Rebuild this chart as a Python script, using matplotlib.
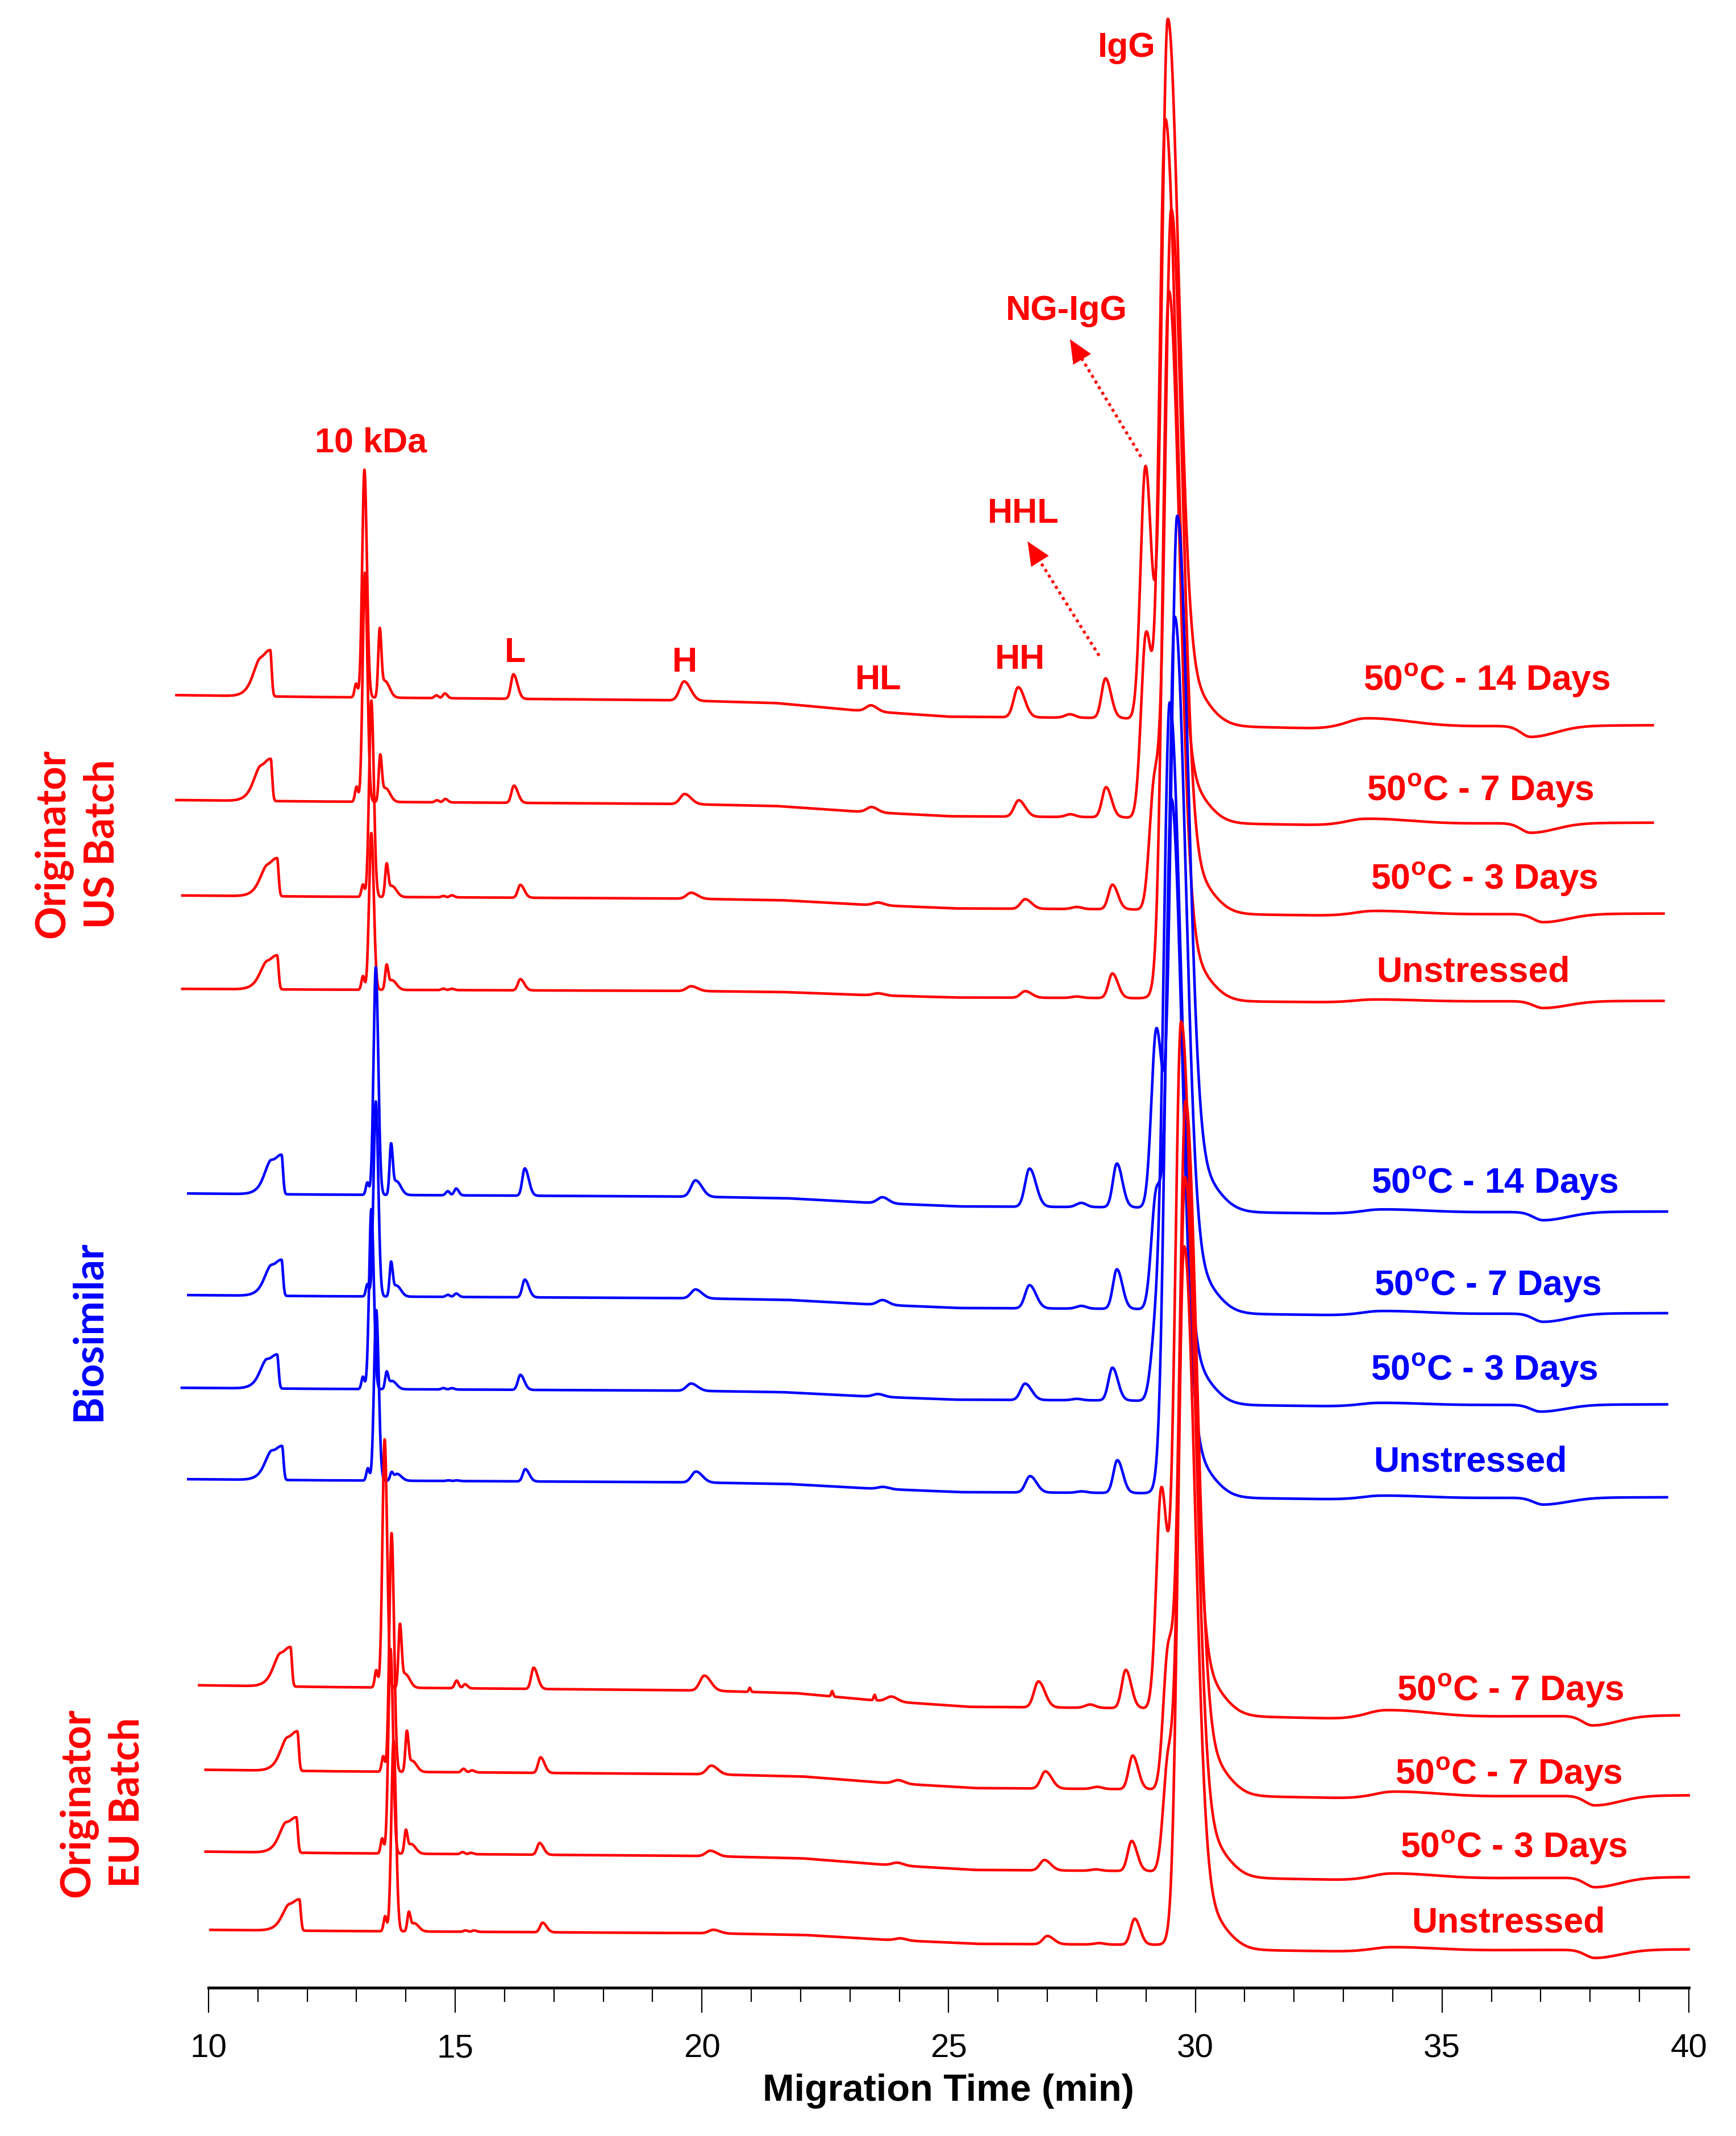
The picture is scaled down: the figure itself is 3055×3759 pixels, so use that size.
import numpy as np
import matplotlib
matplotlib.use('Agg')
import matplotlib.pyplot as plt

plt.rcParams['font.family'] = ['Liberation Sans', 'DejaVu Sans']
plt.rcParams['mathtext.fontset'] = 'custom'
plt.rcParams['mathtext.rm'] = 'Liberation Sans:bold'
plt.rcParams['mathtext.it'] = 'Liberation Sans:bold'
plt.rcParams['mathtext.bf'] = 'Liberation Sans:bold'

RED = '#ff0000'
BLUE = '#0000ff'

# ---- peak table (positions in min for the top US trace) ----
peak_names = ['pre', 'saw', '10kDa_sh', '10kDa', '10kDa_2', '10kDa_tail', 'm1', 'm2',
              'L', 'H', 'HL', 'sp1', 'sp2', 'sp3', 'HH', 'm3', 'HHL']
peak_ref = [11.00, 11.25, 12.99, 13.16, 13.47, 13.58, 14.62, 14.79,
            16.18, 19.64, 23.43, 20.56, 22.23, 23.09, 26.41, 27.46, 28.18]
peak_wl = [0.10, 0.25, 0.03, 0.045, 0.03, 0.05, 0.04, 0.04,
           0.05, 0.09, 0.10, 0.02, 0.02, 0.02, 0.09, 0.10, 0.08]
peak_wr = [0.06, 0.03, 0.03, 0.05, 0.035, 0.09, 0.04, 0.05,
           0.08, 0.13, 0.12, 0.02, 0.02, 0.02, 0.13, 0.10, 0.11]

# peak heights per trace (same order as peak_names)
h_us_14d = [5, 34, 10, 167, 50, 12, 2, 3.5, 18, 14, 4.4, 0, 0, 0, 22, 2.5, 29]
h_us_7d = [5, 31, 11, 168, 34, 10, 1.5, 2.5, 12.6, 7.4, 3.8, 0, 0, 0, 12, 2, 22]
h_us_3d = [4, 28, 9, 144, 24, 8, 1, 1.5, 9.4, 4.4, 2, 0, 0, 0, 7, 1.5, 18]
h_us_0 = [4, 25, 10, 115, 18, 7, 1, 1, 8.2, 3.5, 1.5, 0, 0, 0, 4.8, 1, 18]
h_bs_14d = [6, 29, 9, 167, 37, 10, 3, 5, 20, 12, 4.4, 0, 0, 0, 28, 3, 32]
h_bs_7d = [5, 26.5, 9, 143, 25, 8, 1.5, 2.5, 13, 6.5, 3.5, 0, 0, 0, 17, 2, 29]
h_bs_3d = [5, 25, 9, 132, 12.5, 6, 1, 1, 11, 5.3, 2, 0, 0, 0, 12, 1, 24]
h_bs_0 = [5, 25, 9, 125, 6, 5, 0.5, 0.5, 9, 8, 1.5, 0, 0, 0, 12, 1, 24]
h_eu_7a = [5, 29, 12.6, 182, 46, 10, 5.6, 3, 15.6, 11, 3.6, 3, 4, 4, 19, 2.4, 28]
h_eu_7b = [5, 29, 11.2, 175, 29.5, 8, 2.6, 1.5, 11.4, 6.4, 2.5, 0, 0, 0, 12.6, 1.5, 24.6]
h_eu_3d = [5, 26, 11, 150, 17, 7, 1.5, 1, 8.6, 4, 2, 0, 0, 0, 7.6, 1, 22]
h_eu_0 = [4, 23, 11, 140, 14, 6, 1, 1, 7, 2.6, 1.5, 0, 0, 0, 6, 1, 19]
heights = [h_us_14d, h_us_7d, h_us_3d, h_us_0, h_bs_14d, h_bs_7d, h_bs_3d, h_bs_0,
           h_eu_7a, h_eu_7b, h_eu_3d, h_eu_0]

# ---- per trace values ----
trace_labels = ['50$^{\\mathrm{o}}$C - 14 Days', '50$^{\\mathrm{o}}$C - 7 Days',
                '50$^{\\mathrm{o}}$C - 3 Days', 'Unstressed',
                '50$^{\\mathrm{o}}$C - 14 Days', '50$^{\\mathrm{o}}$C - 7 Days',
                '50$^{\\mathrm{o}}$C - 3 Days', 'Unstressed',
                '50$^{\\mathrm{o}}$C - 7 Days', '50$^{\\mathrm{o}}$C - 7 Days',
                '50$^{\\mathrm{o}}$C - 3 Days', 'Unstressed']
trace_group = ['us'] * 4 + ['bs'] * 4 + ['eu'] * 4
trace_offset = [948, 871, 801, 732.5, 582.5, 508, 440, 373, 222, 160, 100, 42.6]
trace_shift = [0.0, 0.01, 0.14, 0.14, 0.23, 0.23, 0.14, 0.24, 0.41, 0.55, 0.53, 0.59]
trace_start = [9.35, 9.35, 9.47, 9.47, 9.59, 9.59, 9.46, 9.59, 9.81, 9.94, 9.94, 10.04]
trace_end = [39.27, 39.27, 39.49, 39.49, 39.56, 39.56, 39.56, 39.56, 39.8, 40.0, 40.0, 40.0]
drift_scale = [1.0, 0.75, 0.6, 0.4, 0.6, 0.6, 0.55, 0.6, 1.0, 0.85, 0.85, 0.65]

ng_pos = [28.99, 29.0, 29.17, 29.2, 29.21, 29.21, 29.2, 29.3, 29.31, 29.45, 29.45, 29.5]
ng_h = [185, 133, 90, 0, 130, 84, 45, 0, 160, 100, 80, 0]
igg_pos = [29.44, 29.39, 29.51, 29.46, 29.63, 29.58, 29.48, 29.51, 29.71, 29.80, 29.79, 29.77]
igg_h = [500, 498, 498, 504, 493, 493, 495, 495, 490, 490, 494, 498]
tail_h = [30] * 12
bump_pos = [33.45, 33.45, 33.6, 33.6, 33.75, 33.75, 33.7, 33.75, 33.85, 34.0, 33.95, 33.95]
bump_h = [6, 5, 4.5, 4, 4, 4, 3.5, 3.5, 5, 4.5, 4.5, 4]
dip_pos = [36.8, 36.8, 37.05, 37.05, 37.05, 37.05, 37.0, 37.05, 38.05, 38.1, 38.1, 38.1]
dip_h = [-8, -7, -6, -5, -6, -6, -5, -5, -7, -7, -7, -6]

# slow baseline drift of the top trace (min, signal)
drift_x = [9.0, 12.0, 19.5, 21.5, 23.0, 25.0, 28.5, 30.5, 33.0, 36.0, 40.5]
drift_y = [0, -1.5, -4, -6, -11, -16, -17, -23, -25, -23, -22]

group_text = {'us': 'Originator\nUS Batch', 'bs': 'Biosimilar', 'eu': 'Originator\nEU Batch'}
group_color = {'us': RED, 'bs': BLUE, 'eu': RED}

peak_labels = ['10 kDa', 'L', 'H', 'HL', 'HH', 'HHL', 'NG-IgG', 'IgG']


def apeak(x, c, h, wl, wr):
    w = np.where(x < c, wl, wr)
    return h * np.exp(-0.5 * ((x - c) / w) ** 2)


fig = plt.figure(figsize=(30.55, 37.59), dpi=100)
ax = fig.add_axes([0.1201, 0.0694, 0.8527, 0.9306])

for i in range(12):
    x = np.arange(trace_start[i], trace_end[i], 0.003)
    y = trace_offset[i] + drift_scale[i] * np.interp(x - trace_shift[i], drift_x, drift_y)
    for k in range(len(peak_names)):
        y += apeak(x, peak_ref[k] + trace_shift[i], heights[i][k], peak_wl[k], peak_wr[k])
    y += apeak(x, ng_pos[i], ng_h[i], 0.10, 0.12)
    y += apeak(x, igg_pos[i], igg_h[i], 0.12, 0.22)
    y += apeak(x, igg_pos[i] + 0.35, tail_h[i], 0.30, 0.42)
    y += apeak(x, bump_pos[i], bump_h[i] * drift_scale[i] / 0.8, 0.4, 0.9)
    y += apeak(x, dip_pos[i], dip_h[i], 0.2, 0.5)
    col = group_color[trace_group[i]]
    ax.plot(x, y, color=col, lw=3.3, clip_on=False, solid_joinstyle='round')

# trace labels on the right
label_xy = [(35.91, 958.5), (35.77, 877.5), (35.85, 812.5), (35.63, 744.5),
            (36.07, 589.5), (35.93, 514.5), (35.85, 452.5), (35.57, 385.5),
            (36.38, 217.5), (36.35, 156.5), (36.46, 102.5), (36.35, 47.5)]
for i in range(12):
    ax.text(label_xy[i][0], label_xy[i][1], trace_labels[i], color=group_color[trace_group[i]],
            fontsize=45, fontweight='bold', ha='center', va='center')

# peak names
peak_label_xy = [(13.29, 1132.5), (16.22, 978.5), (19.65, 971.5), (23.57, 958.5),
                 (26.45, 973.5), (26.51, 1080.5), (27.39, 1229.5), (28.61, 1422.5)]
for t, (px, py) in zip(peak_labels, peak_label_xy):
    ax.text(px, py, t, color=RED, fontsize=44, fontweight='bold', ha='center', va='center')

# dotted arrows to NG-IgG and HHL
for tail, head in [((28.9, 1122.6), (27.46, 1208.75)), ((28.05, 976.7), (26.6, 1060.5))]:
    dx, dy = head[0] - tail[0], head[1] - tail[1]
    mid = (tail[0] + 0.85 * dx, tail[1] + 0.85 * dy)
    ax.plot([tail[0], mid[0]], [tail[1], mid[1]], color=RED, lw=3.8, ls=(0, (1, 1.2)))
    ax.annotate('', xy=head, xytext=mid,
                arrowprops=dict(arrowstyle='-|>,head_length=0.9,head_width=0.4',
                                color=RED, lw=0.5, mutation_scale=32,
                                shrinkA=0, shrinkB=0))

# group labels
fig.text(0.0445, 0.605, group_text['us'], color=RED, rotation=90, fontsize=52,
         fontweight='bold', family='Lato', ha='center', va='center',
         multialignment='center', linespacing=1.35)
fig.text(0.051, 0.377, group_text['bs'], color=BLUE, rotation=90, fontsize=52,
         fontweight='bold', family='Lato', ha='center', va='center')
fig.text(0.059, 0.156, group_text['eu'], color=RED, rotation=90, fontsize=52,
         fontweight='bold', family='Lato', ha='center', va='center',
         multialignment='center', linespacing=1.35)

# axis styling
ax.set_xlim(10, 40)
ax.set_ylim(0, 1457.5)
for s in ['left', 'right', 'top']:
    ax.spines[s].set_visible(False)
ax.spines['bottom'].set_linewidth(3.6)
ax.set_yticks([])
ax.set_xticks(np.arange(10, 41, 5))
ax.set_xticks(np.arange(10, 41, 1), minor=True)
ax.tick_params(axis='x', which='major', direction='out', length=32, width=1.6,
               labelsize=42, pad=26)
ax.tick_params(axis='x', which='minor', direction='out', length=18, width=1.6)
ax.set_xlabel('Migration Time (min)', fontsize=48, fontweight='bold')
ax.xaxis.set_label_coords(0.5, -0.052)
ax.xaxis.label.set_va('center')
ax.patch.set_alpha(0)

fig.savefig('out.png', dpi=100)
